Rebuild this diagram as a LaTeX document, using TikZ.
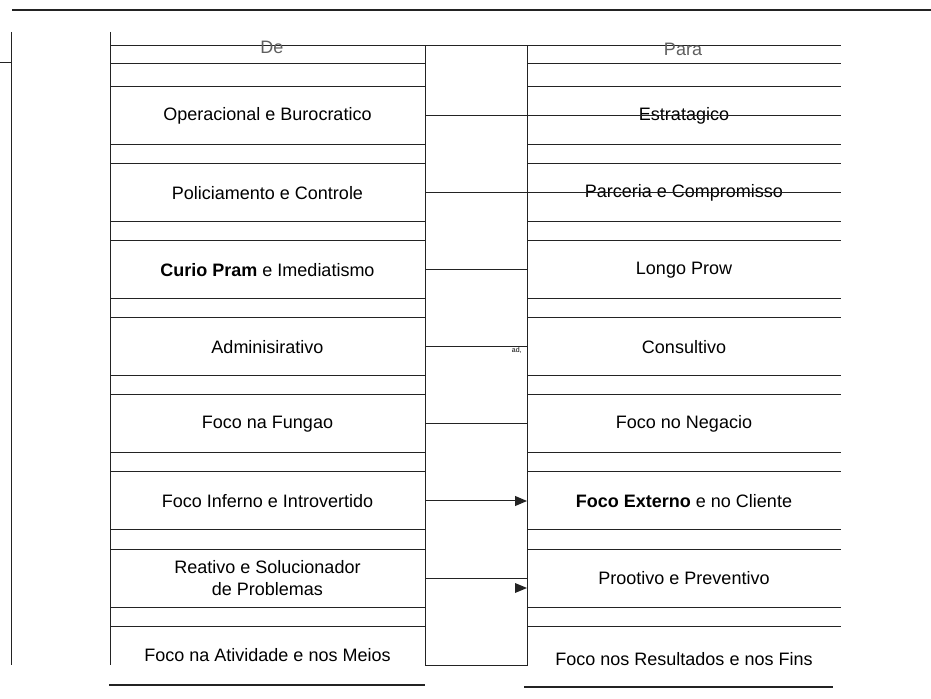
\documentclass[tikz,border=0pt]{standalone}
\usepackage{fontspec}
\setmainfont{Liberation Sans}
\usepackage{tikz}
\usetikzlibrary{arrows.meta,positioning,calc}
\definecolor{ruleblack}{RGB}{35,35,35}
\definecolor{rulegray}{RGB}{95,95,95}

\begin{document}
\begin{tikzpicture}[x=0.5pt,y=-0.5pt,node distance=9.5pt,cellL/.style={minimum width=157.5pt,minimum height=29pt,inner sep=0pt,outer sep=0pt,align=center,font=\fontsize{9}{11}\selectfont},cellR/.style={cellL,minimum width=157pt},rule/.style={draw=ruleblack,line width=0.5pt},arr/.style={-{Triangle[length=6pt,width=5pt]},rule},head/.style={inner sep=0pt,text=rulegray,font=\fontsize{9}{11}\selectfont},tiny/.style={inner sep=0pt,font=\fontsize{3.5}{4}\selectfont}]
\useasboundingbox (0,0) rectangle (931,699);
% frame
\draw[ruleblack,line width=1pt] (12,10) -- (931,10);
\draw[rule] (11,32) -- (11,665) (0,63) -- (11,63);
\draw[rule] (110,32) -- (110,665);
\draw[rule] (425,46) rectangle (527,665);
\draw[rule] (110,46) -- (841,46) (110,64) -- (425,64) (527,64) -- (841,64);
\node[head] (de) at (272,47) {De};
\node[head] (para) at (683,49) {Para};
% De
\node[cellL] (l1) at (267.5,116) {Operacional e Burocratico};
\node[cellL,below=of l1] (l2) {Policiamento e Controle};
\node[cellL,below=of l2] (l3) {\textbf{Curio Pram} e Imediatismo};
\node[cellL,below=of l3] (l4) {Adminisirativo};
\node[cellL,below=of l4] (l5) {Foco na Fungao};
\node[cellL,below=of l5] (l6) {Foco Inferno e Introvertido};
\node[cellL,below=of l6] (l7) {Reativo e Solucionador\\de Problemas};
\node[cellL,below=of l7] (l8) {Foco na Atividade e nos Meios};
% Para
\node[cellR] (r1) at (684,116) {Estratagico};
\node[cellR,below=of r1] (r2) {Parceria e Compromisso};
\node[cellR,below=of r2] (r3) {Longo Prow};
\node[cellR,below=of r3] (r4) {Consultivo};
\node[cellR,below=of r4] (r5) {Foco no Negacio};
\node[cellR,below=of r5] (r6) {\textbf{Foco Externo} e no Cliente};
\node[cellR,below=of r6] (r7) {Prootivo e Preventivo};
\node[cellR,below=of r7,yshift=-2pt] (r8) {Foco nos Resultados e nos Fins};
\foreach \n in {l1,l2,l3,l4,l5,l6,l7,r1,r2,r3,r4,r5,r6,r7}{\draw[rule] (\n.north west) -- (\n.north east) (\n.south west) -- (\n.south east);}
\draw[rule] (l8.north west) -- (l8.north east) (r7.south west) ++(0,19) -- ++(314,0);
\draw[ruleblack,line width=1pt] (109,685) -- (425,685) (524,687) -- (833,687);
% connectors
\draw[rule] (l1.east) -- (r1.east); \draw[rule] (l2.east) -- (r2.east);
\draw[rule] (l3.east) -- (r3.west); \draw[rule] (l4.east) -- node[tiny,pos=0.9,yshift=-1.5pt]{ad,} (r4.west); \draw[rule] (l5.east) -- (r5.west);
\draw[arr] (l6.east) -- (r6.west); \draw[rule] (l7.east) -- (r7.west);
\fill[ruleblack] ($(r7.west)+(0,10)$) -- ++(-12,-5) -- ++(0,10) -- cycle;
\end{tikzpicture}
\end{document}
